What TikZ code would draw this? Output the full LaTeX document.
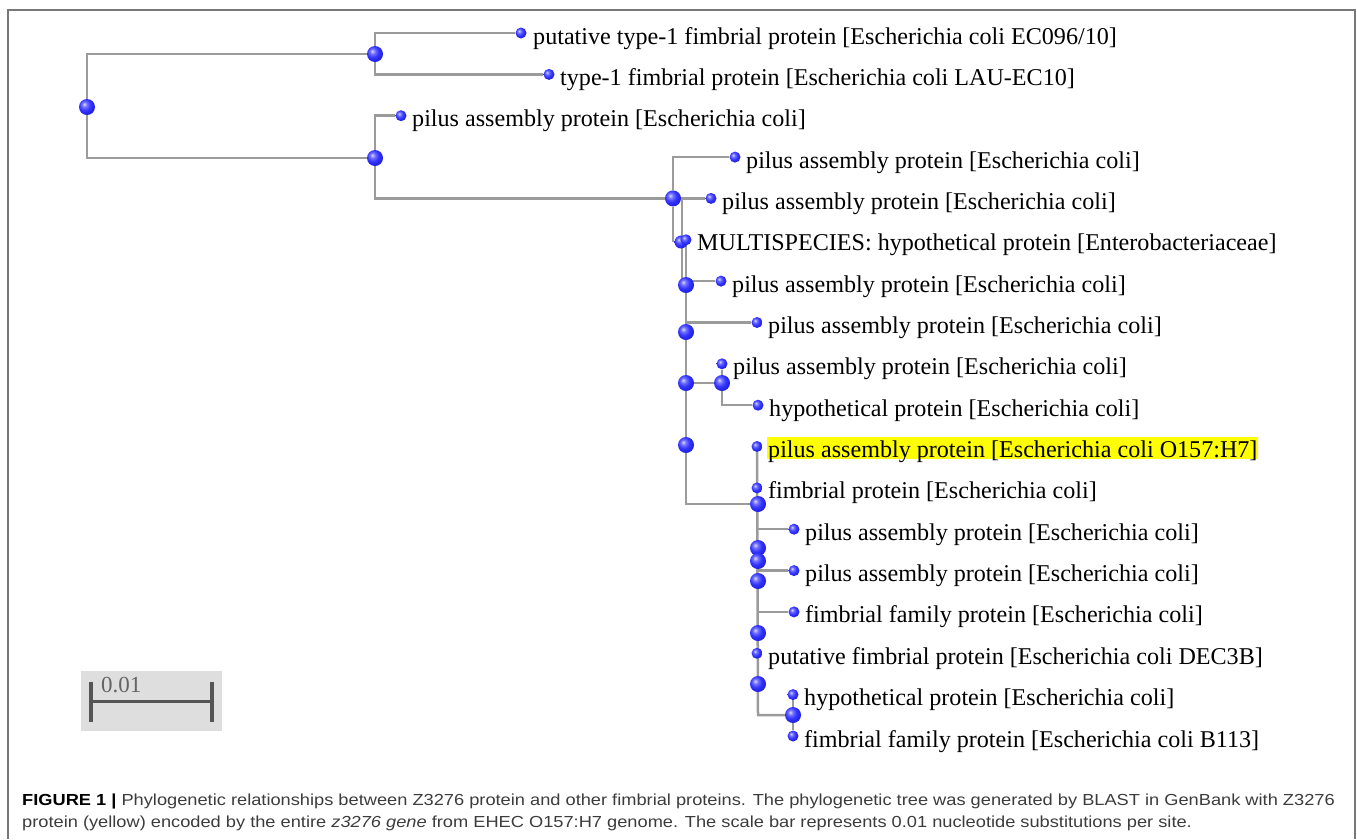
\documentclass[tikz,border=0pt]{standalone}
\usepackage{fontspec}
\setmainfont{Liberation Serif}
\newfontfamily\capfont[FakeStretch=1.14]{Liberation Sans}
\usetikzlibrary{backgrounds,calc}
\definecolor{edgegray}{RGB}{155,155,155}
\definecolor{framegray}{RGB}{120,120,120}
\definecolor{barbg}{RGB}{222,222,222}
\definecolor{bargray}{RGB}{85,85,85}
\definecolor{captextcol}{RGB}{60,60,60}
\definecolor{hl}{RGB}{255,255,0}
\definecolor{scaletext}{RGB}{100,100,100}
\pgfdeclareradialshading{blueball}{\pgfqpoint{-9bp}{9bp}}{%
  rgb(0bp)=(0.85,0.85,1);
  rgb(8bp)=(0.45,0.45,1);
  rgb(18bp)=(0.2,0.2,1);
  rgb(30bp)=(0.12,0.12,0.85);
  rgb(45bp)=(0.08,0.08,0.6);
  rgb(70bp)=(0.05,0.05,0.4)}
\tikzset{
  leaf/.style={circle, inner sep=0pt, minimum size=11pt, shade, shading=blueball},
  inode/.style={circle, inner sep=0pt, minimum size=16pt, shade, shading=blueball},
  lab/.style={anchor=base west, inner sep=0pt, font=\fontsize{24.1}{28}\selectfont},
  edge/.style={draw=edgegray, line width=2.5pt},
  captionline/.style={anchor=base west, inner sep=0pt, font=\capfont\fontsize{16}{19}\selectfont, text=captextcol}
}
\begin{document}
\begin{tikzpicture}[x=1pt,y=-1pt]
\useasboundingbox (0,0) rectangle (1357,839);
% frame
\draw[framegray, line width=1.8pt] (8,839) -- (8,10) -- (1355,10) -- (1355,839);
% internal nodes
\node[inode] (R) at (87,107) {};
\node[inode] (A) at (375,54) {};
\node[inode] (B) at (375,158) {};
\node[inode] (C) at (673,198.4) {};
\node[inode, minimum size=13pt] (D) at (681,242) {};
\node[inode] (E) at (686,285) {};
\node[inode] (F) at (686,332) {};
\node[inode] (G) at (686,383) {};
\node[inode] (H) at (722,383) {};
\node[inode] (I) at (686,445) {};
\node[inode] (J) at (758,504) {};
\node[inode] (K) at (758,548) {};
\node[inode] (K2) at (758,561) {};
\node[inode] (Q) at (758,581) {};
\node[inode] (M) at (758,633) {};
\node[inode] (N) at (758,684) {};
\node[inode] (O) at (793,715) {};
% leaves
\node[leaf] (L1) at (521,33) {};
\node[leaf] (L2) at (549,74.4) {};
\node[leaf] (L3) at (401,115.7) {};
\node[leaf] (L4) at (735,157.1) {};
\node[leaf] (L5) at (711,198.4) {};
\node[leaf] (L6) at (686,239.8) {};
\node[leaf] (L7) at (721,281.1) {};
\node[leaf] (L8) at (757,322.5) {};
\node[leaf] (L9) at (722,363.8) {};
\node[leaf] (L10) at (758,405.2) {};
\node[leaf] (L11) at (757,446.5) {};
\node[leaf] (L12) at (757,487.9) {};
\node[leaf] (L13) at (794,529.2) {};
\node[leaf] (L14) at (794,570.6) {};
\node[leaf] (L15) at (794,611.9) {};
\node[leaf] (L16) at (757,653.3) {};
\node[leaf] (L17) at (793,694.6) {};
\node[leaf] (L18) at (793,736) {};
% labels
\path (L1) ++(12,11) node[lab] (t1) {putative type-1 fimbrial protein [Escherichia coli EC096/10]};
\path (L2) ++(11,11) node[lab] (t2) {type-1 fimbrial protein [Escherichia coli LAU-EC10]};
\path (L3) ++(11,11) node[lab] (t3) {pilus assembly protein [Escherichia coli]};
\path (L4) ++(11,11) node[lab] (t4) {pilus assembly protein [Escherichia coli]};
\path (L5) ++(11,11) node[lab] (t5) {pilus assembly protein [Escherichia coli]};
\path (L6) ++(11,11) node[lab] (t6) {MULTISPECIES: hypothetical protein [Enterobacteriaceae]};
\path (L7) ++(11,11) node[lab] (t7) {pilus assembly protein [Escherichia coli]};
\path (L8) ++(11,11) node[lab] (t8) {pilus assembly protein [Escherichia coli]};
\path (L9) ++(11,11) node[lab] (t9) {pilus assembly protein [Escherichia coli]};
\path (L10) ++(11,11) node[lab] (t10) {hypothetical protein [Escherichia coli]};
\path (L11) ++(10,11) node[lab, fill=hl, inner xsep=1pt, text height=21pt, text depth=1pt] (t11) {pilus assembly protein [Escherichia coli O157:H7]};
\path (L12) ++(11,11) node[lab] (t12) {fimbrial protein [Escherichia coli]};
\path (L13) ++(11,11) node[lab] (t13) {pilus assembly protein [Escherichia coli]};
\path (L14) ++(11,11) node[lab] (t14) {pilus assembly protein [Escherichia coli]};
\path (L15) ++(11,11) node[lab] (t15) {fimbrial family protein [Escherichia coli]};
\path (L16) ++(11,11) node[lab] (t16) {putative fimbrial protein [Escherichia coli DEC3B]};
\path (L17) ++(11,11) node[lab] (t17) {hypothetical protein [Escherichia coli]};
\path (L18) ++(11,11) node[lab] (t18) {fimbrial family protein [Escherichia coli B113]};
% edges
\coordinate (j1) at (682,198.4);
\coordinate (j2) at (686,242);
\coordinate (j3) at (758,715);
\begin{scope}[on background layer]
\draw[edge] (R) |- (A);
\draw[edge] (R) |- (B);
\draw[edge] (A) |- (L1);
\draw[edge] (A) |- (L2);
\draw[edge] (B) |- (L3);
\draw[edge] (B) |- (C);
\draw[edge] (C) |- (L4);
\draw[edge] (C) -- (L5);
\draw[edge] (C) -- (C |- D);
\draw[edge] (j1) |- (L7);
\draw[edge] (j2) |- (J);
\draw[edge] (F |- L8) -- (L8);
\draw[edge] (G) -- (H);
\draw[edge] (L9) -- (H);
\draw[edge] (H) |- (L10);
\draw[edge] (L11) -- (j3) -- (O);
\draw[edge] (J |- L13) -- (L13);
\draw[edge] (J |- L14) -- (L14);
\draw[edge] (J |- L15) -- (L15);
\draw[edge] (L17) -- (L18);
\end{scope}
% scale bar
\fill[barbg] (81,671) rectangle (222,731);
\coordinate (s1) at (91,701.7);
\coordinate (s2) at (212,701.7);
\draw[bargray, line width=3pt] (s1) -- (s2);
\draw[bargray, line width=3.3pt] ($(s1)+(0,-20)$) -- ($(s1)+(0,20)$);
\draw[bargray, line width=3.3pt] ($(s2)+(0,-20)$) -- ($(s2)+(0,20)$);
\node[anchor=base west, inner sep=0pt, font=\fontsize{23}{27}\selectfont, text=scaletext] (scl) at (101,692) {0.01};
% caption
\node[captionline] (cap1) at (22,805.5) {\textbf{\color{black}FIGURE 1 |} Phylogenetic relationships between Z3276 protein and other fimbrial proteins. The phylogenetic tree was generated by BLAST in GenBank with Z3276};
\node[captionline] (cap2) at (22,827) {protein (yellow) encoded by the entire \textit{z3276 gene} from EHEC O157:H7 genome. The scale bar represents 0.01 nucleotide substitutions per site.};
\end{tikzpicture}
\end{document}
